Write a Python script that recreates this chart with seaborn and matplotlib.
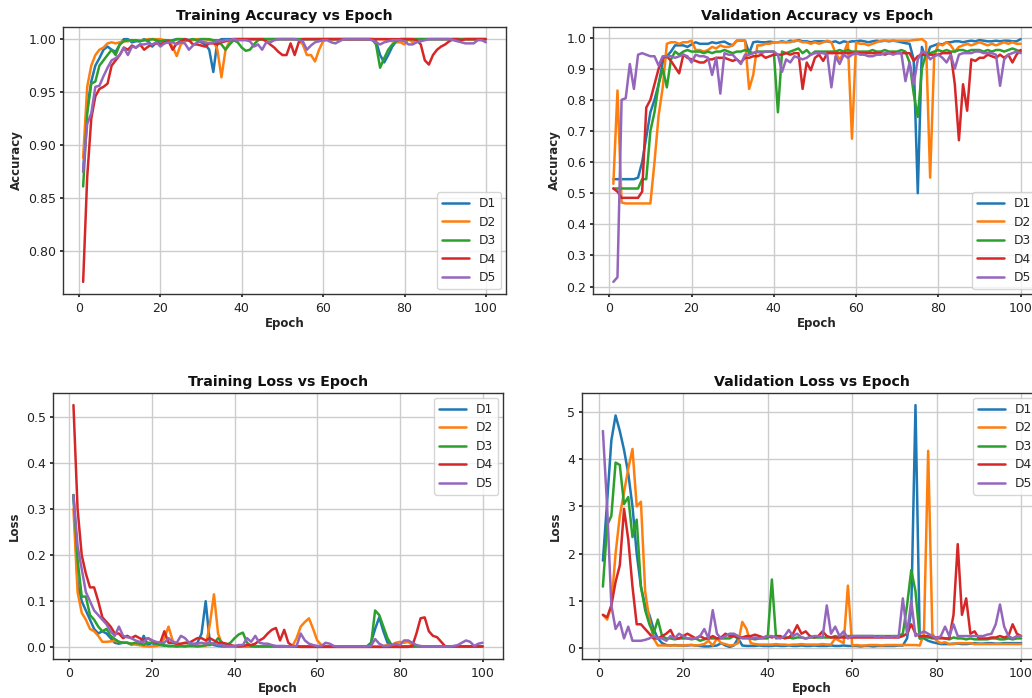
import numpy as np
import pandas as pd
import matplotlib
matplotlib.use("Agg")
import matplotlib.pyplot as plt
import seaborn as sns

epochs = list(range(1, 101))
series_names = ["D1", "D2", "D3", "D4", "D5"]

# ---------------- Training accuracy ----------------
train_acc_d1 = [
    0.875, 0.935, 0.960, 0.975, 0.982, 0.990, 0.993, 0.990, 0.988, 0.995,
    1.000, 1.000, 0.997, 0.998, 0.998, 1.000, 0.998, 0.993, 0.997, 0.998,
    0.999, 0.998, 0.999, 1.000, 1.000, 1.000, 0.999, 1.000, 0.999, 0.997,
    0.995, 0.990, 0.969, 0.998, 1.000, 1.000, 1.000, 1.000, 1.000, 1.000,
    1.000, 1.000, 1.000, 1.000, 1.000, 1.000, 1.000, 1.000, 1.000, 1.000,
    1.000, 1.000, 1.000, 1.000, 1.000, 1.000, 1.000, 1.000, 1.000, 1.000,
    1.000, 1.000, 1.000, 1.000, 1.000, 1.000, 1.000, 1.000, 1.000, 1.000,
    1.000, 1.000, 0.998, 0.985, 0.978, 0.985, 0.993, 0.998, 1.000, 1.000,
    1.000, 1.000, 1.000, 1.000, 1.000, 1.000, 1.000, 1.000, 1.000, 1.000,
    1.000, 1.000, 1.000, 1.000, 1.000, 1.000, 1.000, 1.000, 1.000, 1.000]
train_acc_d2 = [
    0.888, 0.955, 0.975, 0.985, 0.990, 0.992, 0.996, 0.997, 0.996, 0.997,
    0.998, 0.998, 0.999, 0.999, 0.999, 0.999, 1.000, 1.000, 1.000, 1.000,
    0.999, 0.998, 0.993, 0.984, 0.995, 0.998, 0.999, 0.999, 1.000, 1.000,
    1.000, 0.999, 0.999, 0.990, 0.964, 0.990, 0.998, 1.000, 1.000, 1.000,
    1.000, 1.000, 1.000, 1.000, 1.000, 1.000, 1.000, 1.000, 1.000, 1.000,
    1.000, 1.000, 1.000, 0.999, 0.995, 0.985, 0.985, 0.979, 0.990, 0.998,
    1.000, 1.000, 1.000, 1.000, 1.000, 1.000, 1.000, 1.000, 1.000, 1.000,
    1.000, 1.000, 1.000, 1.000, 1.000, 0.999, 0.998, 0.997, 0.997, 0.995,
    1.000, 0.997, 1.000, 1.000, 1.000, 1.000, 1.000, 1.000, 1.000, 1.000,
    1.000, 1.000, 1.000, 1.000, 1.000, 1.000, 1.000, 1.000, 1.000, 1.000]
train_acc_d3 = [
    0.861, 0.930, 0.958, 0.960, 0.975, 0.980, 0.985, 0.990, 0.985, 0.995,
    0.998, 0.999, 0.999, 0.999, 0.998, 0.999, 0.999, 1.000, 0.999, 0.998,
    0.999, 0.999, 0.998, 1.000, 1.000, 0.999, 0.999, 1.000, 0.999, 1.000,
    1.000, 1.000, 0.999, 0.999, 0.995, 0.990, 0.995, 0.999, 0.997, 0.992,
    0.989, 0.990, 0.995, 0.999, 1.000, 1.000, 1.000, 1.000, 1.000, 1.000,
    1.000, 1.000, 1.000, 1.000, 1.000, 1.000, 1.000, 1.000, 1.000, 1.000,
    1.000, 1.000, 1.000, 1.000, 1.000, 1.000, 1.000, 1.000, 1.000, 1.000,
    1.000, 1.000, 0.995, 0.973, 0.982, 0.990, 0.995, 0.998, 1.000, 1.000,
    1.000, 1.000, 1.000, 1.000, 1.000, 1.000, 1.000, 1.000, 1.000, 1.000,
    1.000, 1.000, 1.000, 1.000, 1.000, 1.000, 1.000, 1.000, 1.000, 1.000]
train_acc_d4 = [
    0.771, 0.870, 0.925, 0.946, 0.953, 0.955, 0.958, 0.975, 0.980, 0.985,
    0.992, 0.990, 0.994, 0.992, 0.995, 0.990, 0.993, 0.995, 0.996, 0.995,
    0.997, 0.998, 0.990, 0.996, 0.998, 1.000, 0.999, 0.995, 0.995, 0.994,
    0.993, 0.996, 0.996, 0.995, 0.997, 0.998, 0.999, 1.000, 1.000, 1.000,
    1.000, 1.000, 1.000, 1.000, 1.000, 0.998, 0.995, 0.992, 0.988, 0.985,
    0.985, 0.996, 0.985, 0.997, 1.000, 1.000, 1.000, 1.000, 1.000, 1.000,
    1.000, 1.000, 1.000, 1.000, 1.000, 1.000, 1.000, 1.000, 1.000, 1.000,
    1.000, 1.000, 1.000, 1.000, 1.000, 1.000, 1.000, 1.000, 1.000, 1.000,
    1.000, 1.000, 0.999, 0.995, 0.980, 0.976, 0.985, 0.990, 0.993, 0.995,
    0.998, 1.000, 1.000, 0.999, 1.000, 1.000, 1.000, 1.000, 1.000, 1.000]
train_acc_d5 = [
    0.875, 0.920, 0.930, 0.955, 0.956, 0.965, 0.973, 0.980, 0.982, 0.985,
    0.992, 0.985, 0.993, 0.992, 0.995, 0.995, 0.996, 0.995, 0.997, 0.993,
    0.996, 0.997, 0.997, 0.995, 0.997, 0.996, 0.990, 0.994, 0.997, 0.998,
    0.997, 0.996, 0.997, 0.998, 0.998, 0.999, 0.999, 1.000, 0.999, 0.999,
    0.999, 0.998, 0.993, 0.995, 0.990, 0.997, 0.997, 0.999, 1.000, 1.000,
    1.000, 1.000, 1.000, 0.999, 0.998, 0.990, 0.994, 0.997, 0.998, 0.999,
    0.999, 0.997, 0.996, 0.998, 1.000, 1.000, 1.000, 1.000, 1.000, 1.000,
    1.000, 0.999, 0.997, 0.995, 0.997, 0.998, 0.999, 0.999, 0.999, 0.998,
    0.995, 0.995, 0.997, 0.998, 0.999, 1.000, 1.000, 1.000, 1.000, 1.000,
    1.000, 0.999, 0.998, 0.997, 0.996, 0.996, 0.996, 0.999, 0.999, 0.997]

# ---------------- Validation accuracy ----------------
val_acc_d1 = [
    0.545, 0.545, 0.545, 0.545, 0.545, 0.545, 0.550, 0.600, 0.680, 0.760,
    0.800, 0.850, 0.920, 0.940, 0.955, 0.975, 0.975, 0.975, 0.970, 0.978,
    0.985, 0.980, 0.980, 0.980, 0.985, 0.982, 0.985, 0.987, 0.980, 0.975,
    0.990, 0.990, 0.990, 0.950, 0.985, 0.987, 0.985, 0.985, 0.987, 0.985,
    0.985, 0.988, 0.985, 0.990, 0.988, 0.992, 0.988, 0.988, 0.985, 0.988,
    0.988, 0.988, 0.988, 0.985, 0.988, 0.982, 0.988, 0.985, 0.988, 0.988,
    0.990, 0.988, 0.985, 0.988, 0.990, 0.988, 0.990, 0.988, 0.990, 0.988,
    0.985, 0.982, 0.980, 0.930, 0.500, 0.970, 0.930, 0.970, 0.975, 0.980,
    0.978, 0.985, 0.985, 0.988, 0.988, 0.985, 0.988, 0.990, 0.988, 0.992,
    0.990, 0.988, 0.988, 0.990, 0.988, 0.990, 0.990, 0.988, 0.988, 0.995]
val_acc_d2 = [
    0.530, 0.830, 0.470, 0.467, 0.467, 0.467, 0.467, 0.467, 0.467, 0.467,
    0.600, 0.750, 0.840, 0.980, 0.985, 0.985, 0.980, 0.985, 0.985, 0.990,
    0.960, 0.960, 0.955, 0.960, 0.970, 0.965, 0.975, 0.970, 0.970, 0.975,
    0.990, 0.990, 0.990, 0.835, 0.880, 0.975, 0.975, 0.980, 0.980, 0.985,
    0.985, 0.985, 0.985, 0.985, 0.990, 0.990, 0.985, 0.985, 0.980, 0.985,
    0.980, 0.985, 0.990, 0.985, 0.950, 0.930, 0.950, 0.985, 0.675, 0.985,
    0.980, 0.980, 0.975, 0.980, 0.985, 0.990, 0.990, 0.990, 0.990, 0.990,
    0.990, 0.990, 0.990, 0.992, 0.993, 0.995, 0.985, 0.550, 0.940, 0.980,
    0.975, 0.985, 0.975, 0.955, 0.970, 0.975, 0.980, 0.975, 0.980, 0.985,
    0.980, 0.975, 0.980, 0.975, 0.980, 0.985, 0.980, 0.985, 0.980, 0.980]
val_acc_d3 = [
    0.515, 0.515, 0.515, 0.515, 0.515, 0.515, 0.515, 0.545, 0.545, 0.700,
    0.760, 0.850, 0.900, 0.840, 0.930, 0.955, 0.945, 0.955, 0.960, 0.955,
    0.955, 0.955, 0.950, 0.955, 0.950, 0.955, 0.955, 0.960, 0.955, 0.950,
    0.955, 0.955, 0.960, 0.955, 0.950, 0.955, 0.955, 0.955, 0.955, 0.955,
    0.760, 0.955, 0.950, 0.955, 0.960, 0.965, 0.950, 0.960, 0.945, 0.955,
    0.955, 0.955, 0.955, 0.955, 0.955, 0.960, 0.955, 0.960, 0.955, 0.955,
    0.955, 0.955, 0.955, 0.960, 0.955, 0.955, 0.960, 0.955, 0.955, 0.955,
    0.960, 0.955, 0.920, 0.820, 0.745, 0.900, 0.950, 0.950, 0.955, 0.960,
    0.955, 0.960, 0.955, 0.955, 0.960, 0.960, 0.955, 0.960, 0.960, 0.960,
    0.955, 0.960, 0.955, 0.960, 0.960, 0.955, 0.960, 0.965, 0.960, 0.955]
val_acc_d4 = [
    0.515, 0.505, 0.485, 0.485, 0.485, 0.485, 0.485, 0.505, 0.775, 0.800,
    0.850, 0.900, 0.935, 0.940, 0.925, 0.905, 0.885, 0.945, 0.935, 0.930,
    0.925, 0.920, 0.920, 0.930, 0.930, 0.935, 0.935, 0.935, 0.930, 0.925,
    0.930, 0.920, 0.935, 0.935, 0.940, 0.940, 0.945, 0.935, 0.940, 0.945,
    0.945, 0.945, 0.950, 0.945, 0.950, 0.950, 0.835, 0.920, 0.895, 0.935,
    0.945, 0.925, 0.950, 0.950, 0.950, 0.950, 0.950, 0.950, 0.950, 0.950,
    0.950, 0.950, 0.950, 0.950, 0.950, 0.950, 0.945, 0.950, 0.950, 0.950,
    0.950, 0.950, 0.950, 0.925, 0.940, 0.945, 0.945, 0.945, 0.945, 0.945,
    0.950, 0.950, 0.950, 0.850, 0.670, 0.850, 0.765, 0.930, 0.925, 0.935,
    0.935, 0.945, 0.940, 0.935, 0.945, 0.935, 0.945, 0.920, 0.945, 0.960]
val_acc_d5 = [
    0.215, 0.230, 0.800, 0.805, 0.915, 0.835, 0.945, 0.950, 0.945, 0.940,
    0.940, 0.910, 0.940, 0.940, 0.940, 0.935, 0.940, 0.945, 0.940, 0.920,
    0.945, 0.940, 0.940, 0.935, 0.880, 0.935, 0.820, 0.950, 0.945, 0.945,
    0.930, 0.915, 0.945, 0.945, 0.950, 0.955, 0.950, 0.955, 0.955, 0.955,
    0.945, 0.890, 0.930, 0.920, 0.940, 0.935, 0.930, 0.935, 0.945, 0.950,
    0.950, 0.950, 0.945, 0.840, 0.940, 0.915, 0.945, 0.935, 0.945, 0.950,
    0.945, 0.945, 0.940, 0.940, 0.945, 0.945, 0.950, 0.950, 0.945, 0.950,
    0.950, 0.860, 0.920, 0.850, 0.930, 0.955, 0.950, 0.930, 0.940, 0.945,
    0.935, 0.920, 0.945, 0.900, 0.945, 0.950, 0.950, 0.950, 0.955, 0.955,
    0.950, 0.950, 0.950, 0.945, 0.845, 0.930, 0.945, 0.950, 0.955, 0.950]

# ---------------- Training loss ----------------
train_loss_d1 = [
    0.330, 0.140, 0.100, 0.080, 0.060, 0.040, 0.030, 0.035, 0.030, 0.020,
    0.010, 0.008, 0.010, 0.010, 0.006, 0.008, 0.005, 0.025, 0.005, 0.010,
    0.005, 0.006, 0.004, 0.003, 0.003, 0.002, 0.003, 0.002, 0.004, 0.005,
    0.010, 0.030, 0.100, 0.010, 0.005, 0.003, 0.002, 0.002, 0.002, 0.002,
    0.002, 0.002, 0.002, 0.002, 0.002, 0.002, 0.002, 0.002, 0.002, 0.002,
    0.002, 0.002, 0.002, 0.002, 0.002, 0.002, 0.002, 0.002, 0.002, 0.002,
    0.002, 0.002, 0.002, 0.002, 0.002, 0.002, 0.002, 0.002, 0.002, 0.002,
    0.002, 0.002, 0.010, 0.040, 0.065, 0.035, 0.010, 0.005, 0.003, 0.002,
    0.002, 0.002, 0.002, 0.002, 0.002, 0.002, 0.002, 0.002, 0.002, 0.002,
    0.002, 0.002, 0.002, 0.002, 0.002, 0.002, 0.002, 0.002, 0.002, 0.002]
train_loss_d2 = [
    0.300, 0.120, 0.075, 0.060, 0.040, 0.035, 0.025, 0.012, 0.012, 0.013,
    0.014, 0.012, 0.010, 0.010, 0.008, 0.006, 0.005, 0.003, 0.002, 0.002,
    0.003, 0.005, 0.020, 0.045, 0.015, 0.005, 0.003, 0.003, 0.003, 0.003,
    0.003, 0.003, 0.003, 0.050, 0.115, 0.030, 0.005, 0.003, 0.002, 0.002,
    0.002, 0.002, 0.002, 0.002, 0.002, 0.002, 0.002, 0.002, 0.002, 0.002,
    0.002, 0.002, 0.002, 0.003, 0.020, 0.045, 0.055, 0.063, 0.040, 0.015,
    0.005, 0.003, 0.002, 0.002, 0.002, 0.002, 0.002, 0.002, 0.002, 0.002,
    0.002, 0.002, 0.002, 0.002, 0.002, 0.003, 0.005, 0.005, 0.010, 0.012,
    0.010, 0.012, 0.005, 0.002, 0.002, 0.002, 0.002, 0.002, 0.002, 0.002,
    0.002, 0.002, 0.002, 0.002, 0.002, 0.002, 0.002, 0.002, 0.002, 0.002]
train_loss_d3 = [
    0.330, 0.190, 0.110, 0.110, 0.070, 0.060, 0.045, 0.035, 0.040, 0.025,
    0.018, 0.012, 0.010, 0.010, 0.008, 0.010, 0.008, 0.006, 0.010, 0.010,
    0.008, 0.005, 0.004, 0.003, 0.003, 0.003, 0.003, 0.003, 0.003, 0.003,
    0.002, 0.003, 0.005, 0.005, 0.008, 0.020, 0.010, 0.005, 0.010, 0.020,
    0.028, 0.032, 0.010, 0.003, 0.002, 0.002, 0.002, 0.002, 0.002, 0.002,
    0.002, 0.002, 0.002, 0.002, 0.002, 0.002, 0.002, 0.002, 0.002, 0.002,
    0.002, 0.002, 0.002, 0.002, 0.002, 0.002, 0.002, 0.002, 0.002, 0.002,
    0.002, 0.002, 0.005, 0.080, 0.070, 0.045, 0.020, 0.005, 0.003, 0.002,
    0.002, 0.002, 0.002, 0.002, 0.002, 0.002, 0.002, 0.002, 0.002, 0.002,
    0.002, 0.002, 0.002, 0.002, 0.002, 0.002, 0.002, 0.002, 0.002, 0.002]
train_loss_d4 = [
    0.525, 0.300, 0.200, 0.160, 0.130, 0.130, 0.100, 0.065, 0.055, 0.045,
    0.030, 0.030, 0.020, 0.025, 0.020, 0.025, 0.020, 0.015, 0.020, 0.015,
    0.010, 0.010, 0.035, 0.010, 0.010, 0.008, 0.008, 0.010, 0.010, 0.015,
    0.020, 0.020, 0.015, 0.020, 0.015, 0.010, 0.010, 0.008, 0.005, 0.003,
    0.002, 0.003, 0.005, 0.005, 0.008, 0.015, 0.020, 0.030, 0.038, 0.042,
    0.015, 0.038, 0.010, 0.003, 0.002, 0.001, 0.001, 0.001, 0.001, 0.001,
    0.001, 0.001, 0.001, 0.001, 0.001, 0.001, 0.001, 0.001, 0.001, 0.001,
    0.001, 0.001, 0.001, 0.001, 0.001, 0.001, 0.001, 0.001, 0.001, 0.001,
    0.001, 0.001, 0.003, 0.030, 0.063, 0.065, 0.035, 0.025, 0.022, 0.012,
    0.002, 0.002, 0.002, 0.002, 0.002, 0.002, 0.002, 0.002, 0.002, 0.002]
train_loss_d5 = [
    0.330, 0.220, 0.170, 0.120, 0.100, 0.080, 0.070, 0.060, 0.050, 0.035,
    0.025, 0.045, 0.025, 0.022, 0.020, 0.015, 0.012, 0.012, 0.020, 0.015,
    0.012, 0.010, 0.010, 0.020, 0.012, 0.010, 0.025, 0.020, 0.010, 0.008,
    0.008, 0.010, 0.008, 0.010, 0.008, 0.005, 0.005, 0.003, 0.003, 0.003,
    0.005, 0.005, 0.020, 0.012, 0.025, 0.010, 0.008, 0.008, 0.005, 0.003,
    0.003, 0.003, 0.002, 0.002, 0.003, 0.030, 0.015, 0.008, 0.005, 0.003,
    0.003, 0.010, 0.008, 0.003, 0.002, 0.002, 0.002, 0.002, 0.002, 0.002,
    0.002, 0.002, 0.003, 0.018, 0.008, 0.003, 0.003, 0.005, 0.008, 0.005,
    0.015, 0.015, 0.010, 0.005, 0.003, 0.002, 0.002, 0.002, 0.002, 0.002,
    0.002, 0.002, 0.003, 0.005, 0.010, 0.015, 0.012, 0.003, 0.008, 0.010]

# ---------------- Validation loss ----------------
val_loss_d1 = [
    1.85, 3.10, 4.40, 4.93, 4.60, 4.20, 3.70, 3.00, 2.00, 1.30,
    0.90, 0.70, 0.40, 0.20, 0.10, 0.06, 0.05, 0.06, 0.05, 0.05,
    0.05, 0.06, 0.05, 0.04, 0.03, 0.03, 0.04, 0.05, 0.10, 0.05,
    0.02, 0.05, 0.20, 0.05, 0.04, 0.04, 0.04, 0.05, 0.04, 0.04,
    0.04, 0.05, 0.04, 0.04, 0.05, 0.04, 0.04, 0.05, 0.04, 0.04,
    0.05, 0.04, 0.04, 0.04, 0.05, 0.04, 0.04, 0.05, 0.04, 0.04,
    0.04, 0.03, 0.04, 0.04, 0.03, 0.04, 0.04, 0.04, 0.04, 0.04,
    0.05, 0.05, 0.20, 0.80, 5.15, 0.20, 0.20, 0.15, 0.12, 0.10,
    0.08, 0.08, 0.08, 0.09, 0.09, 0.08, 0.08, 0.09, 0.10, 0.09,
    0.09, 0.10, 0.10, 0.09, 0.09, 0.10, 0.10, 0.10, 0.10, 0.10]
val_loss_d2 = [
    0.70, 0.60, 0.90, 2.00, 2.80, 3.30, 3.80, 4.22, 3.00, 3.10,
    1.20, 0.60, 0.20, 0.05, 0.05, 0.05, 0.05, 0.05, 0.05, 0.05,
    0.06, 0.06, 0.05, 0.06, 0.08, 0.15, 0.05, 0.20, 0.10, 0.08,
    0.05, 0.06, 0.10, 0.55, 0.40, 0.10, 0.08, 0.07, 0.07, 0.07,
    0.07, 0.08, 0.07, 0.07, 0.06, 0.07, 0.07, 0.08, 0.07, 0.07,
    0.07, 0.07, 0.08, 0.07, 0.07, 0.20, 0.15, 0.10, 1.32, 0.05,
    0.06, 0.05, 0.05, 0.06, 0.06, 0.06, 0.05, 0.06, 0.06, 0.06,
    0.06, 0.06, 0.06, 0.06, 0.06, 0.05, 0.30, 4.18, 0.30, 0.15,
    0.10, 0.12, 0.08, 0.08, 0.10, 0.10, 0.10, 0.10, 0.08, 0.08,
    0.08, 0.08, 0.08, 0.08, 0.08, 0.08, 0.08, 0.08, 0.08, 0.08]
val_loss_d3 = [
    1.30, 2.60, 2.80, 3.93, 3.88, 3.05, 3.20, 2.35, 2.72, 1.30,
    0.80, 0.50, 0.30, 0.60, 0.25, 0.20, 0.20, 0.18, 0.20, 0.20,
    0.20, 0.18, 0.20, 0.15, 0.18, 0.20, 0.20, 0.20, 0.20, 0.20,
    0.20, 0.25, 0.20, 0.22, 0.22, 0.20, 0.18, 0.20, 0.20, 0.20,
    1.45, 0.20, 0.22, 0.22, 0.22, 0.20, 0.22, 0.22, 0.20, 0.22,
    0.22, 0.22, 0.22, 0.22, 0.22, 0.25, 0.22, 0.25, 0.25, 0.25,
    0.25, 0.25, 0.25, 0.25, 0.25, 0.25, 0.25, 0.25, 0.25, 0.25,
    0.25, 0.30, 0.90, 1.65, 1.20, 0.20, 0.22, 0.22, 0.20, 0.20,
    0.20, 0.20, 0.18, 0.22, 0.20, 0.20, 0.18, 0.20, 0.18, 0.18,
    0.18, 0.18, 0.20, 0.20, 0.18, 0.18, 0.20, 0.18, 0.20, 0.20]
val_loss_d4 = [
    0.70, 0.65, 0.90, 1.40, 1.75, 2.95, 2.30, 1.30, 0.50, 0.50,
    0.40, 0.30, 0.20, 0.20, 0.25, 0.30, 0.38, 0.20, 0.20, 0.25,
    0.30, 0.25, 0.20, 0.25, 0.20, 0.20, 0.25, 0.20, 0.22, 0.30,
    0.25, 0.25, 0.22, 0.22, 0.25, 0.25, 0.28, 0.25, 0.22, 0.25,
    0.22, 0.25, 0.25, 0.20, 0.22, 0.30, 0.48, 0.30, 0.35, 0.25,
    0.22, 0.25, 0.35, 0.25, 0.22, 0.22, 0.22, 0.22, 0.22, 0.22,
    0.22, 0.22, 0.22, 0.22, 0.22, 0.22, 0.22, 0.22, 0.22, 0.22,
    0.22, 0.25, 0.30, 0.50, 0.30, 0.25, 0.25, 0.25, 0.22, 0.22,
    0.22, 0.20, 0.20, 0.70, 2.20, 0.70, 1.05, 0.30, 0.35, 0.20,
    0.20, 0.20, 0.22, 0.22, 0.25, 0.22, 0.25, 0.50, 0.30, 0.25]
val_loss_d5 = [
    4.60, 3.00, 0.90, 0.40, 0.55, 0.20, 0.45, 0.15, 0.15, 0.15,
    0.17, 0.20, 0.25, 0.20, 0.20, 0.15, 0.25, 0.20, 0.30, 0.25,
    0.20, 0.20, 0.20, 0.25, 0.40, 0.20, 0.80, 0.30, 0.20, 0.25,
    0.30, 0.30, 0.25, 0.20, 0.20, 0.20, 0.22, 0.20, 0.22, 0.25,
    0.25, 0.22, 0.20, 0.25, 0.38, 0.25, 0.30, 0.22, 0.20, 0.22,
    0.25, 0.25, 0.22, 0.90, 0.30, 0.45, 0.25, 0.35, 0.20, 0.25,
    0.25, 0.25, 0.25, 0.25, 0.25, 0.22, 0.25, 0.22, 0.22, 0.25,
    0.22, 1.05, 0.30, 1.00, 0.25, 0.30, 0.35, 0.30, 0.25, 0.20,
    0.25, 0.45, 0.25, 0.50, 0.25, 0.25, 0.25, 0.25, 0.25, 0.25,
    0.25, 0.28, 0.30, 0.50, 0.92, 0.45, 0.25, 0.20, 0.25, 0.25]

panels = [
    ("Training Accuracy vs Epoch", "Accuracy",
     [train_acc_d1, train_acc_d2, train_acc_d3, train_acc_d4, train_acc_d5], "lower right"),
    ("Validation Accuracy vs Epoch", "Accuracy",
     [val_acc_d1, val_acc_d2, val_acc_d3, val_acc_d4, val_acc_d5], "lower right"),
    ("Training Loss vs Epoch", "Loss",
     [train_loss_d1, train_loss_d2, train_loss_d3, train_loss_d4, train_loss_d5], "upper right"),
    ("Validation Loss vs Epoch", "Loss",
     [val_loss_d1, val_loss_d2, val_loss_d3, val_loss_d4, val_loss_d5], "upper right"),
]

sns.set_theme(style="ticks")
plt.rcParams["font.family"] = ["DejaVu Sans"]

W, H = 1032, 698
fig = plt.figure(figsize=(W / 100, H / 100), dpi=100)

# axes rectangles in pixels: left, top, right, bottom
rects = [
    (63, 27, 506, 294),
    (593, 27, 1041, 294),
    (53, 393, 503, 659),
    (582, 393, 1042, 659),
]

palette = sns.color_palette("tab10", 5)

for (title, ylabel, data, legloc), (l, t, r, b) in zip(panels, rects):
    ax = fig.add_axes([l / W, (H - b) / H, (r - l) / W, (b - t) / H])
    df = pd.DataFrame({
        "Epoch": epochs * 5,
        "value": [v for s in data for v in s],
        "Series": [n for n in series_names for _ in epochs],
    })
    sns.lineplot(data=df, x="Epoch", y="value", hue="Series", palette=palette,
                 linewidth=1.8, ax=ax, legend=True)
    ax.grid(True, color="#cccccc", linewidth=1.0)
    ax.set_axisbelow(True)
    ax.set_title(title, fontsize=10.2, fontweight="bold", color="#111111", pad=5)
    ax.set_xlabel("Epoch", fontsize=8.5, fontweight="bold", labelpad=2)
    ax.set_ylabel(ylabel, fontsize=8.5, fontweight="bold", labelpad=4)
    ax.tick_params(axis="both", labelsize=9, colors="#222222", length=2.5)
    ax.tick_params(axis="x", pad=3)
    ax.tick_params(axis="y", pad=2.5)
    for sp in ax.spines.values():
        sp.set_color("#333333")
        sp.set_linewidth(1.0)
    ax.set_xticks([0, 20, 40, 60, 80, 100])
    leg = ax.legend(loc=legloc, fontsize=8.8, frameon=True, handlelength=2.2,
                    borderaxespad=0.4, labelspacing=0.45)
    leg.get_frame().set_edgecolor("#cccccc")

fig.savefig("out.png", dpi=100)
